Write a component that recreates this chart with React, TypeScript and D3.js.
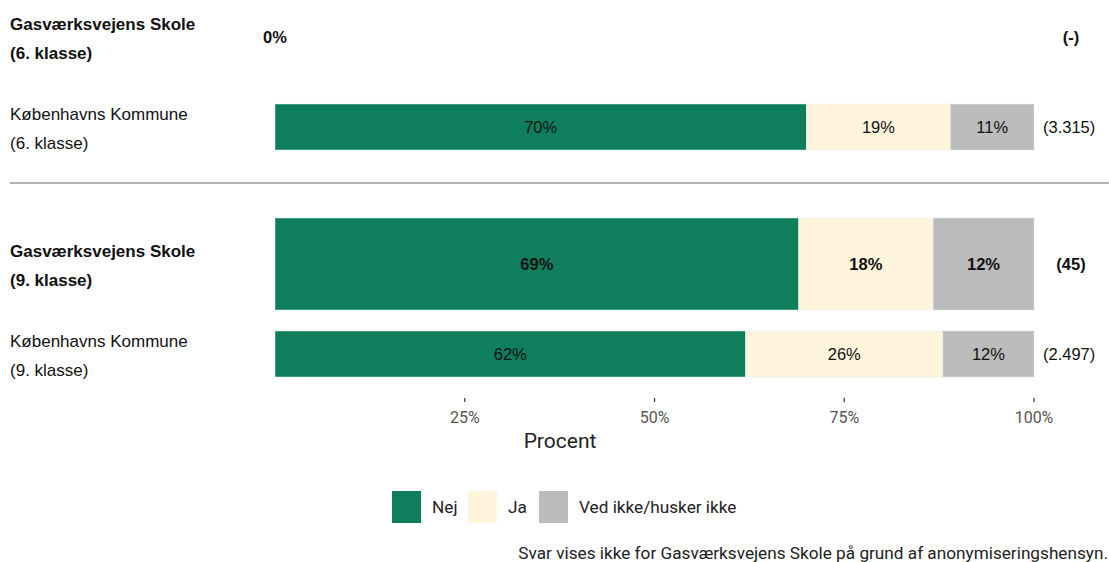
import * as d3 from "d3";

const categories = ["Nej", "Ja", "Ved ikke/husker ikke"];
const colors = ["#0e7e5d", "#fff4dc", "#bbbbbb"];

const grades = ["6. klasse", "9. klasse"];
const rowNames = ["Gasværksvejens Skole", "Københavns Kommune"];

// shares per row (Nej, Ja, Ved ikke), null = hidden for anonymity
const gasv6: number[] | null = null;
const kbh6 = [0.70, 0.19, 0.11];
const gasv9 = [0.69, 0.177, 0.133];
const kbh9 = [0.62, 0.26, 0.12];

const gasv6Labels = ["0%"];
const kbh6Labels = ["70%", "19%", "11%"];
const gasv9Labels = ["69%", "18%", "12%"];
const kbh9Labels = ["62%", "26%", "12%"];

const counts = ["(-)", "(3.315)", "(45)", "(2.497)"];
const ticks = [0.25, 0.5, 0.75, 1];
const footnote = "Svar vises ikke for Gasværksvejens Skole på grund af anonymiseringshensyn.";

const W = 1109;
const H = 562;

const rows = [
  { name: rowNames[0], grade: grades[0], school: true, values: gasv6, labels: gasv6Labels, n: counts[0] },
  { name: rowNames[1], grade: grades[0], school: false, values: kbh6, labels: kbh6Labels, n: counts[1] },
  { name: rowNames[0], grade: grades[1], school: true, values: gasv9, labels: gasv9Labels, n: counts[2] },
  { name: rowNames[1], grade: grades[1], school: false, values: kbh9, labels: kbh9Labels, n: counts[3] },
];

export default function App() {
  const x = d3.scaleLinear().domain([0, 1]).range([275, 1034]);
  const yGroup = d3.scaleBand<string>().domain(grades).range([0, 454]);
  const inner = (school: boolean) => (school ? 37 : 127);
  const barH = (school: boolean) => (school ? 92 : 46);
  const colorScale = d3.scaleOrdinal<string, string>().domain(categories).range(colors);

  const armFont = "'Liberation Sans', Arial, sans-serif";
  const condFont = "Roboto, 'Noto Sans', sans-serif";

  const sepY = (yGroup(grades[1]) as number) - 44;
  const axisY = 398;

  return (
    <svg
      width={W}
      height={H}
      style={{ position: "absolute", left: 0, top: 0, background: "#fff" }}
    >
      {rows.map((r, i) => {
        const cy = (yGroup(r.grade) as number) + inner(r.school);
        const weight = r.school ? "bold" : "normal";
        let acc = 0;
        const segs = r.values
          ? r.values.map((v, j) => {
              const s = { x0: acc, x1: acc + v, cat: categories[j], label: r.labels[j] };
              acc += v;
              return s;
            })
          : [];
        return (
          <g key={i}>
            <text x={10} y={cy - 13} dominantBaseline="central" fontFamily={armFont} fontSize={17} fontWeight={weight} fill="#111">
              {r.name}
            </text>
            <text x={10} y={cy + 16} dominantBaseline="central" fontFamily={armFont} fontSize={17} fontWeight={weight} fill="#111">
              ({r.grade})
            </text>
            {segs.map((s, j) => (
              <g key={j}>
                <rect
                  x={x(s.x0)}
                  y={cy - barH(r.school) / 2}
                  width={x(s.x1) - x(s.x0)}
                  height={barH(r.school)}
                  fill={colorScale(s.cat)}
                  stroke="#dfeee8"
                  strokeWidth={0.5}
                />
                <text
                  x={(x(s.x0) + x(s.x1)) / 2}
                  y={cy}
                  textAnchor="middle"
                  dominantBaseline="central"
                  fontFamily={armFont}
                  fontSize={16.5}
                  fontWeight={weight}
                  fill="#111"
                >
                  {s.label}
                </text>
              </g>
            ))}
            {!r.values && (
              <text x={x(0) - 12} y={cy} dominantBaseline="central" fontFamily={armFont} fontSize={16.5} fontWeight="bold" fill="#111">
                {r.labels[0]}
              </text>
            )}
            <text
              x={r.school ? x(1) + 37 : x(1) + 9}
              y={cy}
              textAnchor={r.school ? "middle" : "start"}
              dominantBaseline="central"
              fontFamily={armFont}
              fontSize={16.5}
              fontWeight={weight}
              fill="#111"
            >
              {r.n}
            </text>
          </g>
        );
      })}

      <line x1={10} x2={W} y1={sepY} y2={sepY} stroke="#b3b3b3" strokeWidth={2} />

      {ticks.map((t) => (
        <g key={t}>
          <line x1={x(t)} x2={x(t)} y1={axisY} y2={axisY + 4} stroke="#333" strokeWidth={1.2} />
          <text x={x(t)} y={axisY + 19} textAnchor="middle" dominantBaseline="central" fontFamily={condFont} fontSize={16} fill="#555">
            {d3.format(".0%")(t)}
          </text>
        </g>
      ))}
      <text x={560} y={441} textAnchor="middle" dominantBaseline="central" fontFamily={condFont} fontSize={21} fill="#222">
        Procent
      </text>

      {categories.map((c, i) => {
        const lx = [392, 468, 539][i];
        return (
          <g key={c}>
            <rect x={lx} y={491} width={29} height={32} fill={colorScale(c)} />
            <text x={lx + 40} y={507} dominantBaseline="central" fontFamily={condFont} fontSize={17.2} fill="#222">
              {c}
            </text>
          </g>
        );
      })}

      <text x={W - 1} y={553} textAnchor="end" dominantBaseline="central" fontFamily={condFont} fontSize={17.2} fill="#222">
        {footnote}
      </text>
    </svg>
  );
}
